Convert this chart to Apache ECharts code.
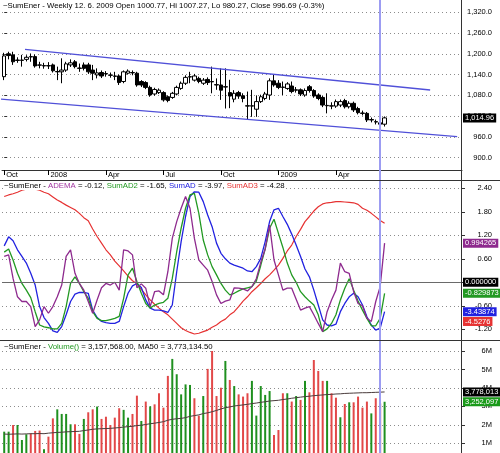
<!DOCTYPE html>
<html>
<head>
<meta charset="utf-8">
<script src="https://cdn.jsdelivr.net/npm/echarts@6/dist/echarts.min.js"></script>
<style>
  html, body { margin: 0; padding: 0; background: #fff; }
  #chart { width: 500px; height: 453px; }
</style>
</head>
<body>
<div id="chart"></div>
<script>
const FONT = '"Liberation Sans", Arial, sans-serif';

// weekly slots, first bar = week of 26 Oct 2007 (empty slots on the right)
const weekCount = 104;
const categories = [];
for (let i = 0; i < weekCount; i++) {
  const d = new Date(Date.UTC(2007, 9, 26) + i * 7 * 86400000);
  categories.push(d.getUTCFullYear() + '-' + (d.getUTCMonth() + 1) + '-' + d.getUTCDate());
}
const tickIndex = [0, 10, 23, 36, 49, 62, 75];
const tickLabels = ['Oct', '2008', 'Apr', 'Jul', 'Oct', '2009', 'Apr'];
const cursorIndex = 85;

// [open, close, low, high]
const ohlc = [
  [1134,1194,1124,1203],[1200,1195,1184,1206],[1197,1177,1168,1206],[1182,1181,1174,1190],
  [1181,1182,1163,1197],[1184,1190,1178,1196],[1191,1192,1177,1201],[1192,1165,1160,1198],
  [1167,1168,1158,1177],[1166,1165,1157,1174],[1165,1166,1156,1176],[1168,1151,1146,1172],
  [1149,1148,1124,1163],[1148,1153,1115,1187],[1153,1171,1148,1177],[1168,1174,1162,1184],
  [1177,1163,1158,1182],[1159,1158,1148,1172],[1168,1158,1152,1175],[1168,1148,1142,1174],
  [1153,1144,1124,1168],[1139,1145,1129,1158],[1146,1136,1130,1152],[1143,1142,1134,1150],
  [1139,1138,1131,1146],[1136,1135,1124,1148],[1136,1117,1110,1140],[1120,1148,1115,1152],
  [1144,1150,1140,1155],[1146,1145,1138,1152],[1144,1110,1105,1148],[1120,1110,1104,1124],
  [1117,1103,1098,1121],[1103,1081,1076,1108],[1084,1097,1079,1102],[1088,1095,1084,1100],
  [1088,1067,1062,1092],[1076,1065,1060,1080],[1074,1086,1070,1090],[1084,1103,1080,1108],
  [1100,1115,1096,1120],[1115,1132,1110,1138],[1133,1134,1115,1148],[1124,1136,1120,1142],
  [1129,1120,1115,1134],[1115,1124,1110,1130],[1126,1117,1110,1132],[1120,1119,1086,1163],
  [1111,1110,1096,1129],[1110,1095,1067,1158],[1105,1104,1042,1158],[1088,1078,1043,1125],
  [1069,1086,1060,1095],[1088,1078,1070,1093],[1079,1071,1060,1086],[1050,1049,1009,1091],
  [1049,1050,1018,1096],[1040,1062,1018,1080],[1062,1076,1058,1082],[1071,1084,1066,1090],
  [1081,1122,1067,1129],[1122,1110,1105,1139],[1115,1103,1098,1124],[1103,1104,1081,1120],
  [1100,1113,1096,1118],[1107,1091,1086,1120],[1096,1095,1088,1104],[1096,1084,1078,1100],
  [1081,1094,1076,1100],[1105,1094,1088,1110],[1094,1078,1073,1098],[1081,1071,1066,1086],
  [1074,1052,1046,1078],[1051,1050,1028,1086],[1049,1050,1040,1060],[1049,1062,1044,1068],
  [1052,1062,1046,1068],[1065,1047,1042,1070],[1047,1057,1042,1063],[1057,1038,1032,1062],
  [1042,1030,1025,1047],[1029,1028,1022,1036],[1028,1009,1003,1032],[1010,1009,1002,1016],
  [1004,1003,996,1010],[1000.77,996.69,980.27,1007.27],[996.69,1014.96,990,1019]
];
const lastClose = 1014.96;

// trend channel, [bar index, price]
const upperChannel = [[4.7, 1213.1], [96.3, 1095.5]];
const lowerChannel = [[-0.95, 1069.5], [102.4, 960.6]];

// indicator panel (values on the ADEMA axis)
const adema = [0.66,0.70,0.10,-0.37,-0.49,-0.49,-0.62,-1.13,-0.96,-0.62,-0.79,-0.62,-0.37,-0.07,0.66,0.83,
  0.23,-0.03,-0.20,-0.49,-0.79,-0.45,-0.14,-0.03,-0.07,0.00,-0.20,0.83,0.80,0.70,-0.14,-0.04,-0.15,-0.62,
  -0.24,-0.22,-0.32,0.27,1.12,1.55,1.89,2.19,1.89,1.12,0.57,0.44,0.31,0.02,-0.32,-0.54,-0.48,-0.45,-0.14,
  -0.15,-0.17,-0.22,-0.11,0.09,0.51,0.85,1.46,0.57,0.19,-0.20,-0.15,-0.15,-0.43,-0.71,-0.66,-0.62,-0.83,
  -1.05,-1.26,-0.75,-0.45,-0.20,0.49,0.27,0.23,-0.24,-0.54,-0.60,-0.92,-1.00,-0.49,-0.11,1.00];
const sumAD2 = [0.77,0.85,0.57,0.23,-0.03,-0.20,-0.39,-0.75,-1.09,-1.14,-1.16,-1.19,-1.19,-1.05,-0.62,-0.03,
  0.14,-0.03,-0.24,-0.41,-0.75,-0.92,-0.98,-0.98,-0.95,-0.92,-0.87,-0.41,0.19,0.36,0.02,-0.28,-0.54,-0.66,
  -0.58,-0.54,-0.51,-0.41,0.10,0.78,1.38,1.89,2.23,2.27,1.76,1.08,0.70,0.40,0.19,-0.03,-0.20,-0.32,-0.28,
  -0.22,-0.17,-0.14,-0.11,0.03,0.43,0.85,1.38,1.61,1.25,0.89,0.49,0.19,0.00,-0.24,-0.37,-0.48,-0.58,
  -0.83,-1.26,-1.19,-1.05,-0.83,-0.45,-0.15,0.09,-0.20,-0.48,-0.71,-0.92,-1.11,-1.11,-0.92,-0.28];
const sumAD = [0.93,1.16,1.06,0.83,0.66,0.49,0.23,-0.07,-0.62,-0.90,-1.05,-1.24,-1.28,-1.13,-0.83,-0.49,
  -0.30,-0.26,-0.26,-0.28,-0.71,-0.90,-1.00,-1.03,-1.05,-1.05,-1.00,-0.62,-0.28,-0.09,-0.03,-0.13,-0.45,
  -0.66,-0.71,-0.71,-0.73,-0.77,-0.58,0.27,1.04,1.68,2.19,2.31,2.30,2.06,1.72,1.42,1.00,0.74,0.60,0.49,
  0.44,0.40,0.36,0.29,0.27,0.40,0.61,1.04,1.55,1.85,1.89,1.68,1.48,1.23,0.95,0.66,0.34,0.14,-0.20,-0.58,
  -0.96,-1.09,-1.11,-1.07,-0.75,-0.54,-0.37,-0.28,-0.37,-0.58,-0.88,-1.09,-1.22,-1.17,-0.75];
const sumAD3 = [2.19,2.23,2.26,2.30,2.35,2.38,2.40,2.38,2.35,2.30,2.26,2.18,2.10,2.04,1.97,1.91,1.85,1.76,
  1.65,1.57,1.36,1.17,1.00,0.83,0.70,0.54,0.42,0.29,0.16,0.04,-0.04,-0.18,-0.32,-0.45,-0.56,-0.66,-0.75,
  -0.83,-0.94,-1.05,-1.16,-1.23,-1.28,-1.32,-1.30,-1.26,-1.22,-1.15,-1.09,-1.00,-0.94,-0.83,-0.75,-0.62,
  -0.48,-0.37,-0.24,-0.14,-0.03,0.09,0.19,0.31,0.44,0.61,0.80,0.95,1.17,1.35,1.55,1.68,1.82,1.93,2.00,
  2.03,2.04,2.06,2.06,2.05,2.04,2.03,1.99,1.89,1.84,1.76,1.67,1.58,1.51];
const sumAD3LabelAt = -1.0;

// volume, millions; 1 = green bar, 0 = red bar
const volume = [1.63,1.63,1.99,1.99,1.18,1.49,1.54,1.67,1.69,0.68,1.36,2.35,2.84,2.59,2.59,2.03,2.03,1.51,
  2.32,2.68,2.84,2.99,2.32,2.44,1.99,2.39,2.90,2.81,2.39,2.59,3.58,2.21,3.26,3.00,3.11,3.71,2.93,4.65,
  5.57,4.74,3.65,4.19,4.16,3.44,2.50,3.56,5.03,6.04,3.56,4.01,5.46,4.43,4.10,3.65,3.53,3.71,4.38,2.50,
  4.10,3.62,3.83,1.45,1.72,3.71,3.71,3.26,3.56,3.35,4.38,3.76,5.51,4.92,4.38,4.38,3.71,3.47,2.41,3.13,
  3.22,3.22,3.53,2.93,3.26,2.62,3.44,3.16,3.25];
const volumeUp = [1,1,0,1,1,1,0,0,0,1,0,0,1,1,1,1,0,0,1,0,0,1,0,0,0,0,0,1,1,0,0,1,0,1,0,0,0,0,1,1,1,1,1,
  0,0,1,0,0,0,0,1,0,1,0,0,0,1,1,1,1,1,0,0,0,1,0,1,0,1,0,0,0,0,1,0,0,1,0,1,0,0,0,0,1,0,0,1];
const ma50 = [1.50,1.49,1.50,1.51,1.50,1.51,1.52,1.52,1.53,1.52,1.55,1.57,1.59,1.60,1.62,1.63,1.64,1.65,
  1.69,1.72,1.76,1.78,1.79,1.80,1.81,1.83,1.85,1.88,1.90,1.92,1.96,1.98,2.02,2.06,2.09,2.13,2.17,2.25,
  2.30,2.33,2.35,2.39,2.46,2.50,2.54,2.61,2.65,2.71,2.78,2.86,2.93,2.97,3.02,3.05,3.08,3.11,3.15,3.18,
  3.22,3.25,3.29,3.31,3.33,3.37,3.40,3.44,3.47,3.50,3.53,3.55,3.58,3.60,3.62,3.64,3.65,3.67,3.68,3.70,
  3.71,3.72,3.73,3.74,3.74,3.75,3.76,3.77,3.78];

const priceTicks = [900, 960, 1020, 1080, 1140, 1200, 1260, 1320];
const adTicks = [-1.2, -0.6, 0, 0.6, 1.2, 1.8, 2.4];
const volTicks = [1, 2, 3, 4, 5, 6];

const col = {
  purple: '#8e2a8e', green: '#229922', blue: '#2222e0', red: '#e63232',
  volGreen: '#1f901f', volRed: '#e24848', cursor: '#9c9cf2', chan: '#5050d8',
  grid: '#8c8c8c', axis: '#333'
};

const chart = echarts.init(document.getElementById('chart'));

function boxLabel(text, bg) {
  return {
    show: true, position: 'end', distance: 1, formatter: text,
    color: '#fff', backgroundColor: bg, fontSize: 7.5, fontFamily: FONT,
    padding: [1, 2, 0, 2], lineHeight: 8
  };
}
function box(value, text, bg) {
  return { yAxis: value, lineStyle: { color: 'rgba(0,0,0,0)' }, label: boxLabel(text, bg) };
}
const cursor = {
  xAxis: cursorIndex,
  lineStyle: { color: col.cursor, width: 2, type: 'solid' },
  label: { show: false }
};
function marks(list) {
  return { silent: true, symbol: ['none', 'none'], animation: false, data: list };
}
function valueAxis(gridIndex, min, max, ticks, fmt) {
  return {
    type: 'value', gridIndex: gridIndex, position: 'right', min: min, max: max,
    axisLine: { show: false },
    axisTick: { show: true, customValues: ticks, length: 3, lineStyle: { color: col.axis } },
    axisLabel: {
      customValues: ticks, formatter: fmt, fontSize: 7.5, fontFamily: FONT, color: '#000',
      align: 'right', margin: 30
    },
    splitLine: { show: true, lineStyle: { color: col.grid, type: [1, 3], width: 1 } }
  };
}
function hiddenCat(gridIndex) {
  return {
    type: 'category', gridIndex: gridIndex, data: categories, show: false,
    axisLine: { onZero: false }
  };
}
const last = arr => arr[arr.length - 1];
const txt = { fontSize: 7.8, fontFamily: FONT, fontWeight: 'normal', color: '#000' };

const options = {
  animation: false,
  backgroundColor: '#fff',
  title: [
    {
      left: 3, top: 2, padding: 0,
      text: '~SumEner - Weekly 12. 6. 2009 Open 1000.77, Hi 1007.27, Lo 980.27, Close 996.69 (-0.3%)',
      textStyle: txt
    },
    {
      left: 3, top: 182, padding: [0, 1], backgroundColor: '#fff',
      text: '{k|~SumEner - }{p|ADEMA}{k| = -0.12, }{g|SumAD2}{k| = -1.65, }{b|SumAD}{k| = -3.97, }{r|SumAD3}{k| = -4.28}',
      textStyle: Object.assign({}, txt, {
        rich: {
          k: Object.assign({}, txt),
          p: Object.assign({}, txt, { color: '#a035a0' }),
          g: Object.assign({}, txt, { color: col.green }),
          b: Object.assign({}, txt, { color: col.blue }),
          r: Object.assign({}, txt, { color: col.red })
        }
      })
    },
    {
      left: 3, top: 343, padding: [0, 1], backgroundColor: '#fff',
      text: '{k|~SumEner - }{g|Volume()}{k| = 3,157,568.00, MA50 = 3,773,134.50}',
      textStyle: Object.assign({}, txt, {
        rich: {
          k: Object.assign({}, txt),
          g: Object.assign({}, txt, { color: col.green })
        }
      })
    }
  ],
  grid: [
    { left: 2, right: 38, top: 0, height: 181, outerBoundsMode: 'none' },
    { left: 2, right: 38, top: 181, height: 160, outerBoundsMode: 'none' },
    { left: 2, right: 38, top: 341, height: 112, outerBoundsMode: 'none' }
  ],
  xAxis: [
    {
      type: 'category', gridIndex: 0, data: categories, position: 'bottom', offset: -11,
      axisLine: { show: true, onZero: false, lineStyle: { color: col.axis, width: 1 } },
      axisTick: {
        show: true, alignWithLabel: true, length: 5,
        interval: i => tickIndex.indexOf(i) >= 0, lineStyle: { color: '#000' }
      },
      axisLabel: {
        interval: i => tickIndex.indexOf(i) >= 0,
        formatter: (v, i) => tickLabels[tickIndex.indexOf(i)],
        align: 'left', margin: 1, padding: [0, 0, 0, 2],
        fontSize: 7.5, fontFamily: FONT, color: '#000'
      },
      splitLine: { show: false }
    },
    hiddenCat(1),
    hiddenCat(2),
    { type: 'value', gridIndex: 0, min: -0.5, max: weekCount - 0.5, show: false }
  ],
  yAxis: [
    valueAxis(0, 832.6, 1355.5, priceTicks,
      v => v.toLocaleString('en-US', { minimumFractionDigits: 1, maximumFractionDigits: 1 })),
    valueAxis(1, -1.4986, 2.586, adTicks, v => v.toFixed(2)),
    valueAxis(2, 0.475, 6.54, volTicks, v => v + 'M')
  ],
  graphic: [
    { type: 'line', z: 100, shape: { x1: 461.5, y1: 0, x2: 461.5, y2: 453 }, style: { stroke: col.axis, lineWidth: 1 } },
    { type: 'line', z: 100, shape: { x1: 0, y1: 180.5, x2: 500, y2: 180.5 }, style: { stroke: col.axis, lineWidth: 1 } },
    { type: 'line', z: 100, shape: { x1: 0, y1: 340.5, x2: 500, y2: 340.5 }, style: { stroke: col.axis, lineWidth: 1 } }
  ],
  series: [
    {
      name: 'Price', type: 'candlestick', xAxisIndex: 0, yAxisIndex: 0, data: ohlc,
      barWidth: 4,
      itemStyle: { color: '#fff', color0: '#000', borderColor: '#000', borderColor0: '#000', borderWidth: 1 },
      markLine: marks([cursor, box(lastClose, '1,014.96', '#000')])
    },
    {
      name: 'Upper channel', type: 'line', xAxisIndex: 3, yAxisIndex: 0, data: upperChannel,
      symbol: 'none', lineStyle: { color: col.chan, width: 1.3 }
    },
    {
      name: 'Lower channel', type: 'line', xAxisIndex: 3, yAxisIndex: 0, data: lowerChannel,
      symbol: 'none', lineStyle: { color: col.chan, width: 1.3 }
    },
    {
      name: 'SumAD3', type: 'line', xAxisIndex: 1, yAxisIndex: 1, data: sumAD3,
      symbol: 'none', lineStyle: { color: col.red, width: 1.2 },
      markLine: marks([
        { yAxis: 0, lineStyle: { color: '#6a6a6a', width: 1, type: 'solid' }, label: boxLabel('0.000000', '#000') },
        cursor,
        box(sumAD3LabelAt, '-4.5276', col.red)
      ])
    },
    {
      name: 'SumAD', type: 'line', xAxisIndex: 1, yAxisIndex: 1, data: sumAD,
      symbol: 'none', lineStyle: { color: col.blue, width: 1.3 },
      markLine: marks([box(last(sumAD), '-3.43874', col.blue)])
    },
    {
      name: 'SumAD2', type: 'line', xAxisIndex: 1, yAxisIndex: 1, data: sumAD2,
      symbol: 'none', lineStyle: { color: col.green, width: 1.3 },
      markLine: marks([box(last(sumAD2), '-0.829873', col.green)])
    },
    {
      name: 'ADEMA', type: 'line', xAxisIndex: 1, yAxisIndex: 1, data: adema,
      symbol: 'none', lineStyle: { color: col.purple, width: 1.3 },
      markLine: marks([box(last(adema), '0.994265', col.purple)])
    },
    {
      name: 'Volume', type: 'bar', xAxisIndex: 2, yAxisIndex: 2, barWidth: 2,
      data: volume.map((v, i) => ({ value: v, itemStyle: { color: volumeUp[i] ? col.volGreen : col.volRed } })),
      markLine: marks([cursor, box(last(volume), '3,252,097', '#1a9a1a')])
    },
    {
      name: 'MA50', type: 'line', xAxisIndex: 2, yAxisIndex: 2, data: ma50,
      symbol: 'none', lineStyle: { color: '#4a3c3c', width: 1 },
      markLine: marks([box(last(ma50), '3,778,013', '#000')])
    }
  ]
};
chart.setOption(options);
</script>
</body>
</html>
